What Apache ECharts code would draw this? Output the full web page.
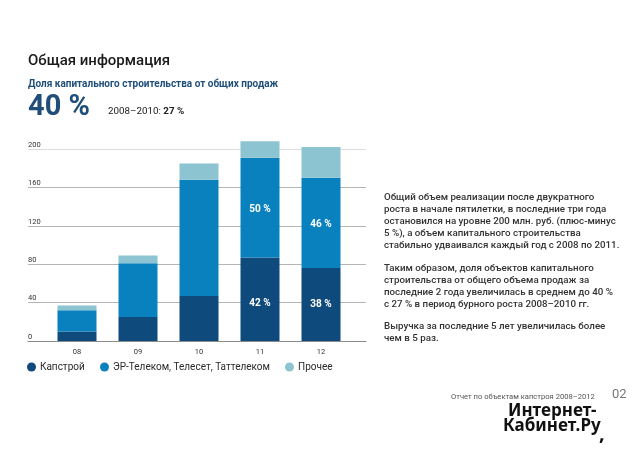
<!DOCTYPE html>
<html>
<head>
<meta charset="utf-8">
<title>Общая информация</title>
<style>
  html, body { margin: 0; padding: 0; background: #fff; }
  #chart { width: 640px; height: 452px; }
</style>
<script src="https://cdn.jsdelivr.net/npm/echarts@6/dist/echarts.min.js"></script>
</head>
<body>
<div id="chart"></div>
<script>
var years = ['08', '09', '10', '11', '12'];
var capstroy = [10, 25, 47, 87, 76];
var telecom = [22, 56, 121, 104, 94];
var other = [5, 8, 17, 17, 32];
var capstroyLabels = ['', '', '', '42 %', '38 %'];
var telecomLabels = ['', '', '', '50 %', '46 %'];
var seriesNames = ['Капстрой', 'ЭР-Телеком, Телесет, Таттелеком', 'Прочее'];
var textBlocks = [
  'Общий объем реализации после двукратного\nроста в начале пятилетки, в последние три года\nостановился на уровне 200 млн. руб. (плюс-минус\n5 %), а объем капитального строительства\nстабильно удваивался каждый год с 2008 по 2011.',
  'Таким образом, доля объектов капитального\nстроительства от общего объема продаж за\nпоследние 2 года увеличилась в среднем до 40 %\nс 27 % в период бурного роста 2008–2010 гг.',
  'Выручка за последние 5 лет увеличилась более\nчем в 5 раз.'
];

var FONT = 'Roboto';
var chart = echarts.init(document.getElementById('chart'));

function barLabel(labels, offset) {
  return {
    show: true,
    position: 'inside',
    offset: offset,
    color: '#fff',
    fontFamily: FONT,
    fontSize: 10,
    fontWeight: 'bold',
    formatter: function (p) { return labels[p.dataIndex]; }
  };
}

function txt(x, y, text, size, color, weight, z) {
  return {
    type: 'text', left: x, top: y, z: z || 20,
    style: { text: text, font: (weight || 'normal') + ' ' + size + 'px ' + FONT, fill: color }
  };
}

function para(y, text) {
  return {
    type: 'text', left: 384, top: y, z: 20,
    style: { text: text, font: '500 9.75px ' + FONT, fill: '#333', lineHeight: 12 }
  };
}

function stamp(x, y, text, size) {
  return {
    type: 'text', left: x, top: y, z: 22,
    style: { text: text, font: 'bold ' + size + 'px "Noto Sans"', fill: '#111' }
  };
}

chart.setOption({
  backgroundColor: '#fff',
  animation: false,
  color: ['#0f4a7c', '#0a81bf', '#8cc4d2'],
  legend: [
    { data: [seriesNames[0]], left: 27, top: 362 },
    { data: [seriesNames[1]], left: 100, top: 362 },
    { data: [seriesNames[2]], left: 285, top: 362 }
  ].map(function (l) {
    l.icon = 'circle';
    l.itemWidth = 9;
    l.itemHeight = 9;
    l.itemGap = 4;
    l.padding = 0;
    l.textStyle = { fontFamily: FONT, fontSize: 10, color: '#2a2a2a', padding: [0, 0, 0, -1] };
    return l;
  }),
  grid: [
    // бары: ось до 240, чтобы столбец 11 не обрезался
    { left: 46.5, width: 305, top: 110.6, height: 230.4 },
    // линии и подписи шкалы шире, чем столбцы
    { left: 28, width: 338, top: 149, height: 192 }
  ],
  xAxis: [
    {
      type: 'category', gridIndex: 0, data: years,
      axisLine: { show: false }, axisTick: { show: false },
      axisLabel: { color: '#333', fontFamily: FONT, fontSize: 7.5, margin: 7 }
    },
    {
      type: 'category', gridIndex: 1, data: years,
      axisLine: { show: true, lineStyle: { color: '#8a8a8a', width: 1 } },
      axisTick: { show: false }, axisLabel: { show: false }
    }
  ],
  yAxis: [
    { type: 'value', gridIndex: 0, min: 0, max: 240, show: false },
    {
      type: 'value', gridIndex: 1, min: 0, max: 200, interval: 40,
      axisLine: { show: false }, axisTick: { show: false },
      axisLabel: {
        inside: true, margin: 0, verticalAlign: 'bottom', color: '#333',
        fontFamily: FONT, fontSize: 7.5
      },
      splitLine: {
        show: true,
        lineStyle: { color: ['#8a8a8a', '#b5b5b5', '#b5b5b5', '#b5b5b5', '#b5b5b5', '#dcdcdc'], width: 1 }
      }
    }
  ],
  series: [
    {
      name: seriesNames[0], type: 'bar', stack: 'total', barWidth: 39, z: 3,
      label: barLabel(capstroyLabels, [0, 0]),
      data: capstroy.map(function (v, i) {
        return i === 3 ? { value: v, label: { offset: [0, 4] } } : v;
      })
    },
    { name: seriesNames[1], type: 'bar', stack: 'total', barWidth: 39, data: telecom, label: barLabel(telecomLabels, [0, 2]), z: 3 },
    { name: seriesNames[2], type: 'bar', stack: 'total', barWidth: 39, data: other, z: 3 }
  ],
  graphic: [
    txt(28, 54, 'Общая информация', 15, '#1a1a1a', '500'),
    txt(28, 79, 'Доля капитального строительства от общих продаж', 10, '#1f4e79', 'bold'),
    {
      type: 'text', left: 28, top: 93, z: 20,
      style: { text: '40 %', font: 'bold 29px ' + FONT, fill: '#1f4e79' }
    },
    {
      type: 'text', left: 108, top: 107, z: 20,
      style: {
        text: '{a|2008–2010: }{b|27 %}',
        rich: {
          a: { font: '9.8px ' + FONT, fill: '#222' },
          b: { font: 'bold 9.8px ' + FONT, fill: '#222' }
        }
      }
    },
    para(192, textBlocks[0]),
    para(263, textBlocks[1]),
    para(321, textBlocks[2]),
    txt(451, 393, 'Отчет по объектам капстроя 2008–2012', 7.6, '#555'),
    txt(612, 388, '02', 13, '#777'),
    { type: 'rect', z: 21, shape: { x: 440, y: 400, width: 170, height: 52 }, style: { fill: '#fff' } },
    stamp(508, 403, 'Интернет-', 17),
    stamp(503, 418, 'Кабинет.Ру', 17),
    stamp(599, 424, ',', 20)
  ]
});
</script>
</body>
</html>
